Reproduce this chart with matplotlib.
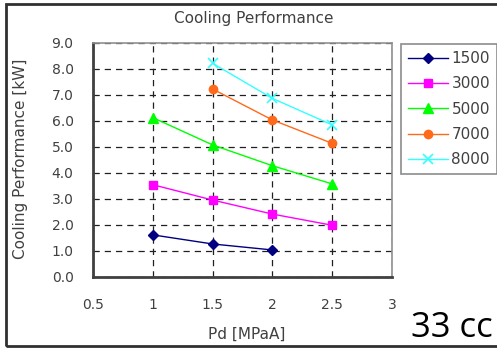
import matplotlib
matplotlib.use("Agg")
import matplotlib.pyplot as plt
from matplotlib.patches import Rectangle

plt.rcParams['font.family'] = ['DejaVu Sans']

# data
pd_1500 = [1.0, 1.5, 2.0]
cp_1500 = [1.62, 1.27, 1.04]
pd_3000 = [1.0, 1.5, 2.0, 2.5]
cp_3000 = [3.55, 2.96, 2.42, 1.99]
pd_5000 = [1.0, 1.5, 2.0, 2.5]
cp_5000 = [6.13, 5.08, 4.28, 3.58]
pd_7000 = [1.5, 2.0, 2.5]
cp_7000 = [7.23, 6.04, 5.14]
pd_8000 = [1.5, 2.0, 2.5]
cp_8000 = [8.22, 6.87, 5.85]

x_ticks = [0.5, 1, 1.5, 2, 2.5, 3]
x_labels = ["0.5", "1", "1.5", "2", "2.5", "3"]
y_ticks = [0, 1, 2, 3, 4, 5, 6, 7, 8, 9]

W, H = 497, 349
fig = plt.figure(figsize=(W / 100, H / 100), dpi=100)
ax = fig.add_axes([93 / W, 1 - 277 / H, (392 - 93) / W, (277 - 43) / H])

txt = "#404040"

ax.plot(pd_1500, cp_1500, color="#000080", marker="D", markersize=5, lw=1, label="1500")
ax.plot(pd_3000, cp_3000, color="#ff00ff", marker="s", markersize=6, lw=1, label="3000")
ax.plot(pd_5000, cp_5000, color="#00ff00", marker="^", markersize=7, lw=1, label="5000")
ax.plot(pd_7000, cp_7000, color="#ff6a1a", marker="o", markersize=6, lw=1, label="7000")
ax.plot(pd_8000, cp_8000, color="#33ffff", marker="x", markersize=7, mew=1.2, lw=1, label="8000")

ax.set_xlim(0.5, 3)
ax.set_ylim(0, 9)
ax.set_xticks(x_ticks)
ax.set_xticklabels(x_labels)
ax.set_yticks(y_ticks)
ax.set_yticklabels([f"{v:.1f}" for v in y_ticks])
ax.tick_params(length=0, labelsize=10, colors=txt)
ax.tick_params(axis="x", pad=15)
ax.tick_params(axis="y", pad=14)
ax.grid(True, color="#202020", linestyle=(0, (5, 4)), linewidth=0.9)

for s in ["left", "bottom"]:
    ax.spines[s].set_color("#404040")
    ax.spines[s].set_linewidth(2)
for s in ["right", "top"]:
    ax.spines[s].set_color("#909090")
    ax.spines[s].set_linewidth(1.2)

fig.text(247 / W, 1 - 334 / H, "Pd [MPaA]", fontsize=11, color=txt,
         ha="center", va="center")
fig.text(21 / W, 1 - 159 / H, "Cooling Performance [kW]", fontsize=11,
         color=txt, ha="center", va="center", rotation=90)
fig.text(254 / W, 1 - 19 / H, "Cooling Performance", fontsize=11, color=txt,
         ha="center", va="center")

leg = ax.legend(loc="upper left", bbox_to_anchor=(401 / W, 1 - 44 / H),
                bbox_transform=fig.transFigure, frameon=True, fancybox=False,
                fontsize=11, labelspacing=0.68, handlelength=2.6,
                borderpad=0.45, handletextpad=0.25, borderaxespad=0)
leg.get_frame().set_edgecolor("#707070")
leg.get_frame().set_linewidth(1.2)
for t in leg.get_texts():
    t.set_color(txt)

fig.text(493 / W, 1 - 337 / H, "33 cc", fontsize=25, color="black",
         ha="right", va="baseline", family="Open Sans")

fig.patches.append(Rectangle((6 / W, 1 - 346 / H), 600 / W, (346 - 4) / H,
                             transform=fig.transFigure, fill=False,
                             edgecolor="#303030", linewidth=2))

fig.savefig("out.png", dpi=100)
